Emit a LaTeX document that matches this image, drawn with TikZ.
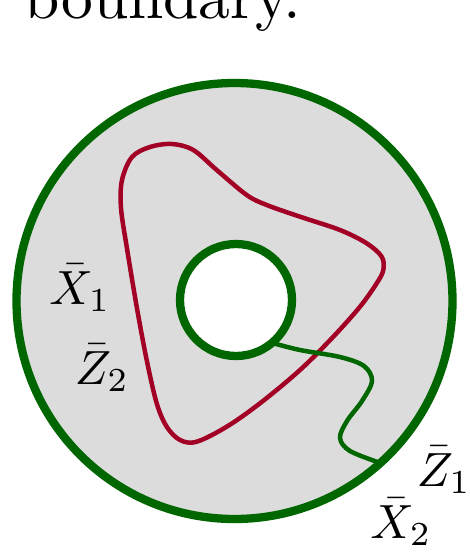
\documentclass[tikz,border=0pt]{standalone}
\usetikzlibrary{calc}
\definecolor{ringgray}{RGB}{220,220,220}
\definecolor{dkgreen}{RGB}{0,102,0}
\definecolor{loopred}{RGB}{163,0,38}
\begin{document}
\begin{tikzpicture}[x=1pt,y=-1pt,
  boundarycirc/.style={circle,draw=dkgreen,line width=8.3pt,outer sep=0pt,inner sep=0pt},
  lbl/.style={inner sep=0pt},
  redloop/.style={draw=loopred,line width=4.5pt},
  greenpath/.style={draw=dkgreen,line width=4.5pt}]
\useasboundingbox (0,0) rectangle (470,552);
% title (cut off at the top)
\node[anchor=base west,inner sep=0pt] (title) at (24,18) {\scalebox{6.35}{boundary.}};
% annulus
\node[boundarycirc,fill=ringgray,minimum size=436pt] (outer) at (234.5,301) {};
\node[boundarycirc,fill=white,minimum size=112pt] (inner) at (236,300) {};
% red loop
\draw[redloop] plot[smooth cycle,tension=0.55] coordinates {
 (122,180) (132,157) (150,147) (172,144) (193.3,150) (216.7,170) (246.7,195)
 (266.7,205) (300,216.7) (340,230) (366.7,243.3) (381.7,256.7) (383.3,270)
 (376.7,283.3) (360,306.7) (333.3,336.7) (300,370) (260,403.3) (226.7,426.7)
 (196.7,441.7) (180,440) (166.7,426.7) (156.7,403.3) (146.7,360) (136.7,306.7)
 (126.7,246.7) (121,208)};
% green arc from inner to outer boundary
\draw[greenpath] plot[smooth,tension=0.55] coordinates {
 (inner.-50) (300,350) (340,357) (364,366) (372,381) (362,401) (347,421)
 (340,438) (350,451) (outer.-48)};
% labels
\node[lbl] (x1) at (80,288) {\scalebox{4.8}{$\bar{X}_1$}};
\node[lbl] (z2) at (102,368) {\scalebox{4.8}{$\bar{Z}_2$}};
\node[lbl] (z1) at (444,470) {\scalebox{4.8}{$\bar{Z}_1$}};
\node[lbl] (x2) at (401,522) {\scalebox{4.8}{$\bar{X}_2$}};
\end{tikzpicture}
\end{document}
